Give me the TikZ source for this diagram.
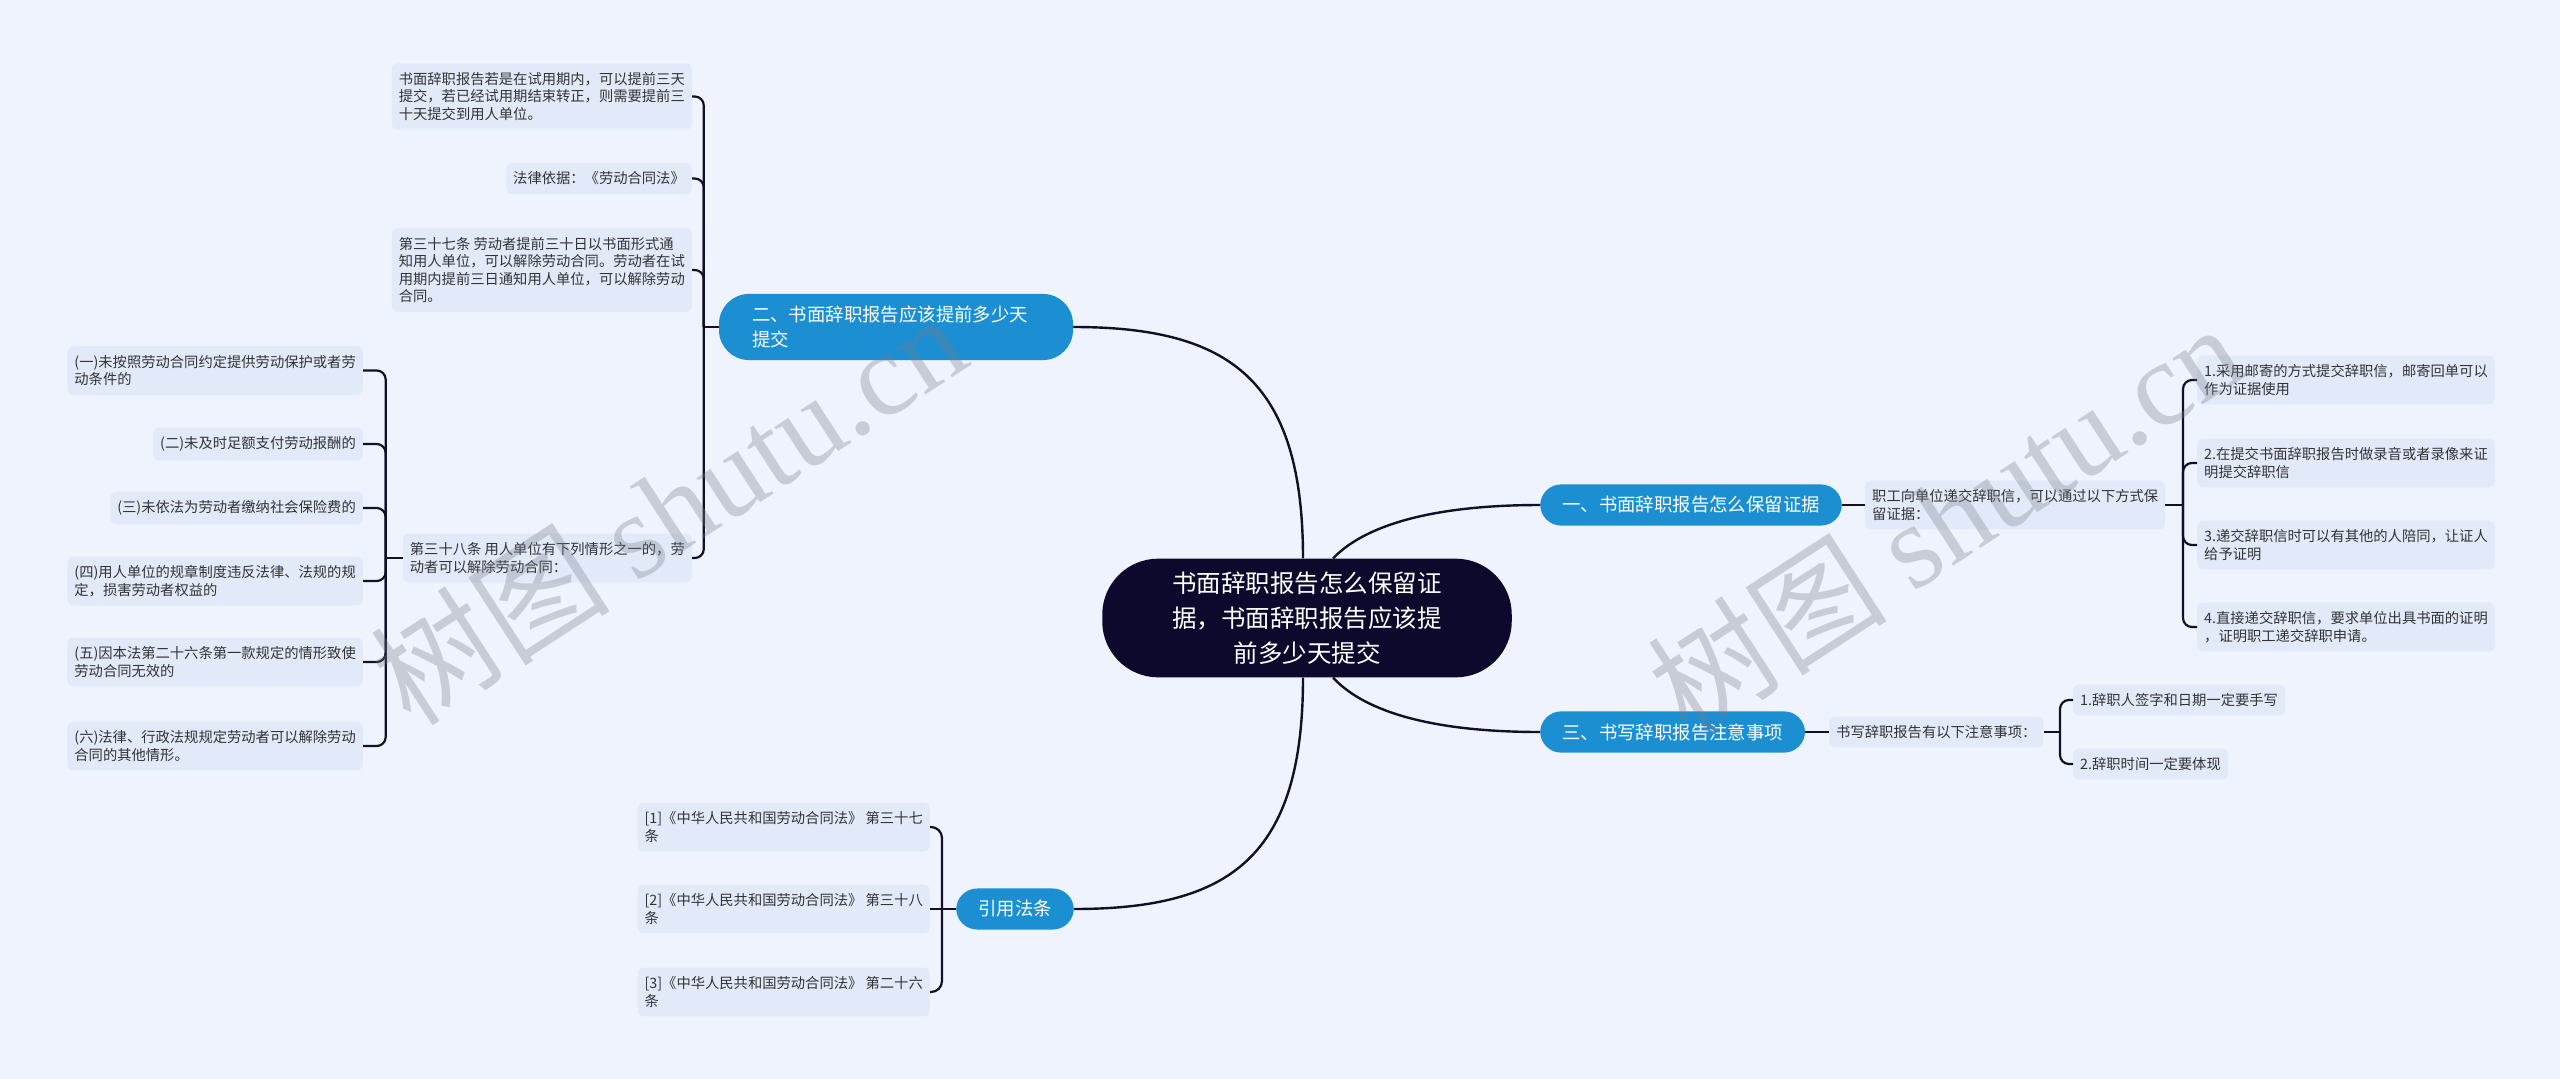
\documentclass[tikz,border=0pt]{standalone}
\usepackage{fontspec}
\setmainfont{Noto Sans CJK SC}
\newfontfamily\wmlatin{Liberation Serif}
\usepackage{tikz}
\usetikzlibrary{calc}
\definecolor{PageBg}  {RGB}{238,243,253}
\definecolor{LeafFill}{RGB}{226,234,250}
\definecolor{LeafText}{RGB}{51,51,51}
\definecolor{BrFill}  {RGB}{28,143,211}
\definecolor{RootFill}{RGB}{12,9,45}
\definecolor{LineCol} {RGB}{18,16,38}
\definecolor{WmCol}   {RGB}{120,124,134}
\tikzset{
  nd_root/.style={
    rectangle, rounded corners=56pt, fill=RootFill, text=white,
    align=center, inner xsep=70pt, inner ysep=13pt,
    font=\fontsize{24.5}{35}\selectfont},
  nd_br/.style={
    rectangle, rounded corners=21pt, fill=BrFill, text=white,
    align=left, inner xsep=22pt, inner ysep=12pt,
    font=\fontsize{18.4}{25}\selectfont},
  nd_leaf/.style={
    rectangle, rounded corners=6pt, fill=LeafFill, text=LeafText,
    align=left, inner xsep=7pt, inner ysep=9pt,
    font=\fontsize{14.3}{17.5}\selectfont},
  ln/.style={draw=LineCol, line width=2.4pt},
  brk/.style={draw=LineCol, line width=2.2pt, rounded corners=9pt},
  wm/.style={text=WmCol, text opacity=0.32, rotate=33,
    font=\fontsize{120}{120}\selectfont},
}

\begin{document}
\begin{tikzpicture}[x=1pt,y=-1pt]

%% page
\fill[PageBg] (0,0) rectangle (2560,1079);
\useasboundingbox (0,0) rectangle (2560,1079);

%% column edges
\def\Ax{692} \def\Bx{363} \def\Cx{930}
\def\Rx{2197} \def\Gx{2073}

%% ── CENTRE + BRANCHES ───────────────────────────────────────
\node[nd_root] at (1307,618) (C){书面辞职报告怎么保留证\\据，书面辞职报告应该提\\前多少天提交};
\node[nd_br, text width=288pt, inner xsep=33pt, rounded corners=30pt]
      at (896,327) (B2){二、书面辞职报告应该提前多少天\\提交};
\node[nd_br,anchor=west] at (1540,505) (B1){一、书面辞职报告怎么保留证据};
\node[nd_br,anchor=west] at (1540,732) (B3){三、书写辞职报告注意事项};
\node[nd_br,anchor=east] at (1074,909) (B4){引用法条};

\draw[ln] ([xshift=-4pt]C.north) .. controls (1303,380) and (1230,327) .. (B2.east);
\draw[ln] ([xshift=26pt]C.north) .. controls (1360,530) and (1420,505) .. (B1.west);
\draw[ln] ([xshift=26pt]C.south) .. controls (1360,707) and (1420,732) .. (B3.west);
\draw[ln] ([xshift=-4pt]C.south) .. controls (1303,857) and (1230,909) .. (B4.east);

%% ── LEFT UPPER: 二 ──────────────────────────────────────────
\node[nd_leaf,anchor=east] at (\Ax,96.5) (A1){书面辞职报告若是在试用期内，可以提前三天\\提交，若已经试用期结束转正，则需要提前三\\十天提交到用人单位。};
\node[nd_leaf,anchor=east] at (\Ax,178.5) (A2){法律依据：《劳动合同法》};
\node[nd_leaf,anchor=east] at (\Ax,270) (A3){第三十七条 劳动者提前三十日以书面形式通\\知用人单位，可以解除劳动合同。劳动者在试\\用期内提前三日通知用人单位，可以解除劳动\\合同。};
\node[nd_leaf,anchor=east] at (\Ax,558) (A4){第三十八条 用人单位有下列情形之一的，劳\\动者可以解除劳动合同：};

\coordinate (J2) at ($(B2.west)+(-15,0)$);
\draw[ln] (B2.west) -- (J2);
\draw[brk] (J2) |- (A1.east);
\draw[brk] (J2) |- (A2.east);
\draw[brk] (J2) |- (A3.east);
\draw[brk] (J2) |- (A4.east);

%% ── LEFT COLUMN: 第三十八条 ─────────────────────────────────
\node[nd_leaf,anchor=east] at (\Bx,370.5) (L1){(一)未按照劳动合同约定提供劳动保护或者劳\\动条件的};
\node[nd_leaf,anchor=east] at (\Bx,444) (L2){(二)未及时足额支付劳动报酬的};
\node[nd_leaf,anchor=east] at (\Bx,508) (L3){(三)未依法为劳动者缴纳社会保险费的};
\node[nd_leaf,anchor=east] at (\Bx,581) (L4){(四)用人单位的规章制度违反法律、法规的规\\定，损害劳动者权益的};
\node[nd_leaf,anchor=east] at (\Bx,662) (L5){(五)因本法第二十六条第一款规定的情形致使\\劳动合同无效的};
\node[nd_leaf,anchor=east] at (\Bx,746) (L6){(六)法律、行政法规规定劳动者可以解除劳动\\合同的其他情形。};

\coordinate (J4) at ($(A4.west)+(-17,0)$);
\draw[ln] (A4.west) -- (J4);
\draw[brk] (J4) |- (L1.east);
\draw[brk] (J4) |- (L2.east);
\draw[brk] (J4) |- (L3.east);
\draw[brk] (J4) |- (L4.east);
\draw[brk] (J4) |- (L5.east);
\draw[brk] (J4) |- (L6.east);

%% ── LEFT LOWER: 引用法条 ────────────────────────────────────
\node[nd_leaf,anchor=east] at (\Cx,827) (H1){[1]《中华人民共和国劳动合同法》 第三十七\\条};
\node[nd_leaf,anchor=east] at (\Cx,909) (H2){[2]《中华人民共和国劳动合同法》 第三十八\\条};
\node[nd_leaf,anchor=east] at (\Cx,992) (H3){[3]《中华人民共和国劳动合同法》 第二十六\\条};

\coordinate (J5) at ($(B4.west)+(-14,0)$);
\draw[ln] (B4.west) -- (H2.east);
\draw[brk, rounded corners=11pt] (J5) |- (H1.east);
\draw[brk, rounded corners=11pt] (J5) |- (H3.east);

%% ── RIGHT: 一 ───────────────────────────────────────────────
\node[nd_leaf,anchor=west] at (1865,505) (E1){职工向单位递交辞职信，可以通过以下方式保\\留证据：};
\node[nd_leaf,anchor=west] at (\Rx,380) (R1){1.采用邮寄的方式提交辞职信，邮寄回单可以\\作为证据使用};
\node[nd_leaf,anchor=west] at (\Rx,463) (R2){2.在提交书面辞职报告时做录音或者录像来证\\明提交辞职信};
\node[nd_leaf,anchor=west] at (\Rx,545) (R3){3.递交辞职信时可以有其他的人陪同，让证人\\给予证明};
\node[nd_leaf,anchor=west] at (\Rx,627) (R4){4.直接递交辞职信，要求单位出具书面的证明\\，证明职工递交辞职申请。};

\coordinate (J1) at ($(R1.west|-E1.east)+(-14,0)$);
\draw[ln] (B1.east) -- (E1.west);
\draw[ln] (E1.east) -- (J1);
\draw[brk] (J1) |- (R1.west);
\draw[brk] (J1) |- (R2.west);
\draw[brk] (J1) |- (R3.west);
\draw[brk] (J1) |- (R4.west);

%% ── RIGHT: 三 ───────────────────────────────────────────────
\node[nd_leaf,anchor=west] at (1829,732) (F1){书写辞职报告有以下注意事项：};
\node[nd_leaf,anchor=west] at (\Gx,700) (G1){1.辞职人签字和日期一定要手写};
\node[nd_leaf,anchor=west] at (\Gx,764) (G2){2.辞职时间一定要体现};

\coordinate (J3) at ($(G1.west|-F1.east)+(-13,0)$);
\draw[ln] (B3.east) -- (F1.west);
\draw[ln] (F1.east) -- (J3);
\draw[brk] (J3) |- (G1.west);
\draw[brk] (J3) |- (G2.west);

%% watermarks
\node[wm] (W1) at (668,508) {树图 {\wmlatin shutu.cn}};
\node[wm] (W2) at (1945,518) {树图 {\wmlatin shutu.cn}};

\end{tikzpicture}
\end{document}
